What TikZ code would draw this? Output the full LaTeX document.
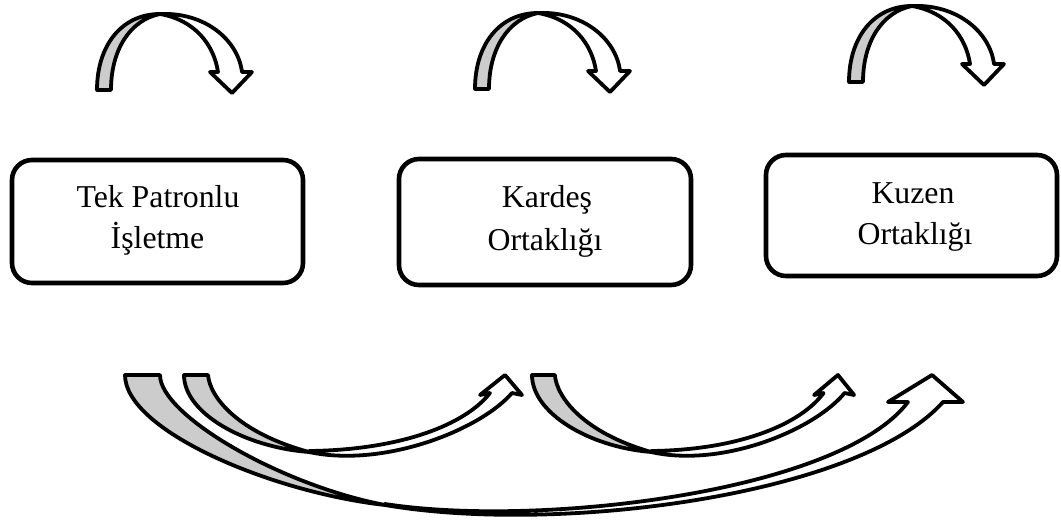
\documentclass[tikz,border=0pt]{standalone}
\usepackage{fontspec}
\setmainfont{Liberation Serif}
\definecolor{backgray}{RGB}{204,204,204}
\tikzset{
  stagebox/.style={draw=black, line width=4.6pt, rounded corners=20pt,
    inner sep=0pt, outer sep=0pt, fill=white},
  stagetext/.style={font=\fontsize{31.8}{41}\selectfont, inner sep=0pt, anchor=base},
  backside/.style={fill=backgray, draw=black, line width=3.8pt, line join=round},
  frontside/.style={fill=white, draw=black, line width=3.8pt, line join=round},
  % curved arrow over a stage box (origin: outer foot of the left stem)
  toparrow/.pic={
    \path[backside] (0,0) .. controls (0,-45) and (25,-76) .. (63,-76)
      .. controls (33,-70) and (14,-40) .. (14,0) -- cycle;
    \path[frontside] (63,-76) .. controls (108,-78) and (141,-50) .. (145,-18)
      -- (155,-18) -- (135,3) -- (113,-18) -- (121,-18)
      .. controls (117,-45) and (98,-70) .. (63,-76) -- cycle;
  },
  % curved up arrow between neighbouring stages (origin: outer top of the tail)
  bottomarrow/.pic={
    \path[backside] (0,0) .. controls (0,38) and (60,72) .. (125,77)
      .. controls (55,58) and (26,23) .. (24,0) -- cycle;
    \path[frontside] (125,77) .. controls (200,93) and (296,55) .. (328,18)
      -- (338,20) -- (321,0) -- (296,20) -- (306,18)
      .. controls (281,50) and (216,75) .. (125,76) -- cycle;
  }
}
\begin{document}
\begin{tikzpicture}[x=1pt,y=-1pt]
\useasboundingbox (0,0) rectangle (1061,523);

% stage boxes
\node[stagebox, minimum width=291pt, minimum height=123pt] (s1) at (157.5,221.5) {};
\node[stagebox, minimum width=292pt, minimum height=126pt] (s2) at (545,222) {};
\node[stagebox, minimum width=291pt, minimum height=121pt] (s3) at (911.5,215.5) {};

\node[stagetext] (s1a) at (158,207) {Tek Patronlu};
\node[stagetext] (s1b) at (157.5,248) {İşletme};
\node[stagetext] (s2a) at (547,207) {Kardeş};
\node[stagetext] (s2b) at (545,250) {Ortaklığı};
\node[stagetext] (s3a) at (913,203) {Kuzen};
\node[stagetext] (s3b) at (915,244) {Ortaklığı};

% arrows above the stages
\pic at (97,90) {toparrow};
\pic at (475,89) {toparrow};
\pic at (849,82) {toparrow};

% arrows below: stage 1 -> 2, stage 2 -> 3
\pic at (184,375) {bottomarrow};
\pic[xscale=0.953] at (532,375) {bottomarrow};

% long arrow below: stage 1 -> 3
\path[backside] (125,375) .. controls (125,430) and (270,492) .. (385,505)
  .. controls (280,485) and (160,415) .. (160,375) -- cycle;
\path[frontside] (385,505) .. controls (560,535) and (860,495) .. (943,402)
  -- (963,402) -- (932,375) -- (888,402) -- (908,402)
  .. controls (840,492) and (540,528) .. (385,504) -- cycle;
\end{tikzpicture}
\end{document}
